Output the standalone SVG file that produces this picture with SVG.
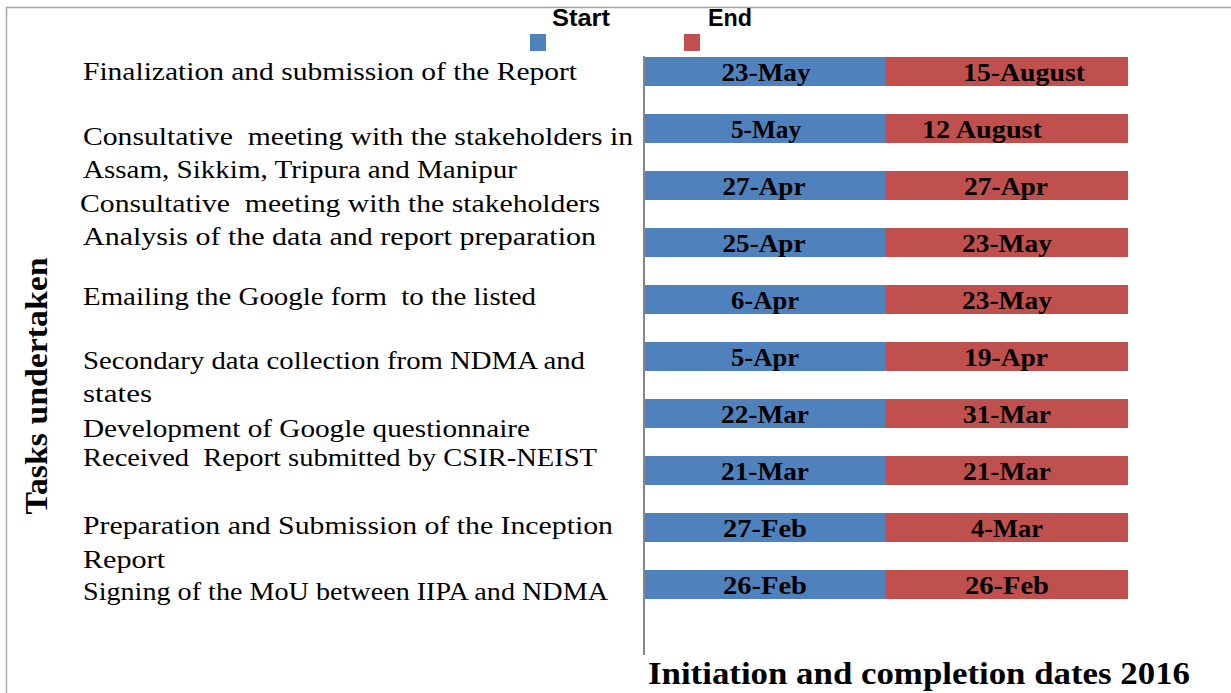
<svg xmlns="http://www.w3.org/2000/svg" width="1231" height="693" viewBox="0 0 1231 693">
<defs>
<style>
.frame{fill:none;stroke:#a6a6a6;stroke-width:1.5}
.axis{stroke:#868686;stroke-width:2}
.start{fill:#4F81BD}
.end{fill:#C0504D}
.lbl{font-family:"Liberation Serif",serif;font-size:26px;fill:#000;white-space:pre}
.val{font-family:"Liberation Serif",serif;font-size:26px;font-weight:bold;fill:#000;text-anchor:middle}
.leg{font-family:"Liberation Sans",sans-serif;font-size:24px;font-weight:bold;fill:#000}
.title{font-family:"Liberation Serif",serif;font-size:31px;font-weight:bold;fill:#000}
</style>
</defs>
<rect x="0" y="0" width="1231" height="693" fill="#fff"/>
<rect class="frame" x="6.5" y="7.5" width="1300" height="800"/>

<g id="legend">
<text class="leg" x="552" y="26" textLength="58" lengthAdjust="spacingAndGlyphs">Start</text>
<rect class="start" x="530" y="34" width="16" height="17"/>
<text class="leg" x="708" y="26" textLength="44" lengthAdjust="spacingAndGlyphs">End</text>
<rect class="end" x="684" y="34" width="16" height="17"/>
</g>

<g id="axis-title-y">
<text class="title" transform="translate(47,386) rotate(-90)" text-anchor="middle" font-size="27" textLength="257" lengthAdjust="spacingAndGlyphs">Tasks undertaken</text>
</g>
<g id="axis-title-x">
<text class="title" x="648" y="684" textLength="542" lengthAdjust="spacingAndGlyphs">Initiation and completion dates 2016</text>
</g>

<g id="connectors">
<line class="axis" x1="644" y1="56" x2="644" y2="655"/>
</g>

<g id="task-1">
<text class="lbl" x="83" y="80" textLength="494" lengthAdjust="spacingAndGlyphs">Finalization and submission of the Report</text>
<rect class="start" x="645" y="57" width="241" height="29"/>
<rect class="end" x="886" y="57" width="242" height="29"/>
<text class="val" x="766" y="81" textLength="89" lengthAdjust="spacingAndGlyphs">23-May</text>
<text class="val" x="1024" y="81" textLength="122" lengthAdjust="spacingAndGlyphs">15-August</text>
</g>

<g id="task-2">
<text class="lbl" x="83" y="145" textLength="550" lengthAdjust="spacingAndGlyphs">Consultative  meeting with the stakeholders in</text>
<text class="lbl" x="83" y="178" textLength="434" lengthAdjust="spacingAndGlyphs">Assam, Sikkim, Tripura and Manipur</text>
<rect class="start" x="645" y="114" width="241" height="29"/>
<rect class="end" x="886" y="114" width="242" height="29"/>
<text class="val" x="766" y="138" textLength="70" lengthAdjust="spacingAndGlyphs">5-May</text>
<text class="val" x="982" y="138" textLength="120" lengthAdjust="spacingAndGlyphs">12 August</text>
</g>

<g id="task-3">
<text class="lbl" x="80" y="212" textLength="520" lengthAdjust="spacingAndGlyphs">Consultative  meeting with the stakeholders</text>
<rect class="start" x="645" y="171" width="241" height="29"/>
<rect class="end" x="886" y="171" width="242" height="29"/>
<text class="val" x="764" y="195" textLength="83" lengthAdjust="spacingAndGlyphs">27-Apr</text>
<text class="val" x="1006" y="195" textLength="84" lengthAdjust="spacingAndGlyphs">27-Apr</text>
</g>

<g id="task-4">
<text class="lbl" x="83" y="245" textLength="513" lengthAdjust="spacingAndGlyphs">Analysis of the data and report preparation</text>
<rect class="start" x="645" y="228" width="241" height="29"/>
<rect class="end" x="886" y="228" width="242" height="29"/>
<text class="val" x="764" y="252" textLength="83" lengthAdjust="spacingAndGlyphs">25-Apr</text>
<text class="val" x="1007" y="252" textLength="90" lengthAdjust="spacingAndGlyphs">23-May</text>
</g>

<g id="task-5">
<text class="lbl" x="83" y="305" textLength="453" lengthAdjust="spacingAndGlyphs">Emailing the Google form  to the listed</text>
<rect class="start" x="645" y="285" width="241" height="29"/>
<rect class="end" x="886" y="285" width="242" height="29"/>
<text class="val" x="765" y="309" textLength="68" lengthAdjust="spacingAndGlyphs">6-Apr</text>
<text class="val" x="1007" y="309" textLength="90" lengthAdjust="spacingAndGlyphs">23-May</text>
</g>

<g id="task-6">
<text class="lbl" x="83" y="369" textLength="502" lengthAdjust="spacingAndGlyphs">Secondary data collection from NDMA and</text>
<text class="lbl" x="83" y="402" textLength="69" lengthAdjust="spacingAndGlyphs">states</text>
<rect class="start" x="645" y="342" width="241" height="29"/>
<rect class="end" x="886" y="342" width="242" height="29"/>
<text class="val" x="765" y="366" textLength="68" lengthAdjust="spacingAndGlyphs">5-Apr</text>
<text class="val" x="1006" y="366" textLength="84" lengthAdjust="spacingAndGlyphs">19-Apr</text>
</g>

<g id="task-7">
<text class="lbl" x="83" y="437" textLength="447" lengthAdjust="spacingAndGlyphs">Development of Google questionnaire</text>
<rect class="start" x="645" y="399" width="241" height="29"/>
<rect class="end" x="886" y="399" width="242" height="29"/>
<text class="val" x="765" y="423" textLength="88" lengthAdjust="spacingAndGlyphs">22-Mar</text>
<text class="val" x="1007" y="423" textLength="88" lengthAdjust="spacingAndGlyphs">31-Mar</text>
</g>

<g id="task-8">
<text class="lbl" x="83" y="466" textLength="514" lengthAdjust="spacingAndGlyphs">Received  Report submitted by CSIR-NEIST</text>
<rect class="start" x="645" y="456" width="241" height="29"/>
<rect class="end" x="886" y="456" width="242" height="29"/>
<text class="val" x="765" y="480" textLength="88" lengthAdjust="spacingAndGlyphs">21-Mar</text>
<text class="val" x="1007" y="480" textLength="88" lengthAdjust="spacingAndGlyphs">21-Mar</text>
</g>

<g id="task-9">
<text class="lbl" x="83" y="534" textLength="530" lengthAdjust="spacingAndGlyphs">Preparation and Submission of the Inception</text>
<text class="lbl" x="83" y="568" textLength="82" lengthAdjust="spacingAndGlyphs">Report</text>
<rect class="start" x="645" y="513" width="241" height="29"/>
<rect class="end" x="886" y="513" width="242" height="29"/>
<text class="val" x="765" y="537" textLength="84" lengthAdjust="spacingAndGlyphs">27-Feb</text>
<text class="val" x="1007" y="537" textLength="72" lengthAdjust="spacingAndGlyphs">4-Mar</text>
</g>

<g id="task-10">
<text class="lbl" x="83" y="600" textLength="525" lengthAdjust="spacingAndGlyphs">Signing of the MoU between IIPA and NDMA</text>
<rect class="start" x="645" y="570" width="241" height="29"/>
<rect class="end" x="886" y="570" width="242" height="29"/>
<text class="val" x="765" y="594" textLength="84" lengthAdjust="spacingAndGlyphs">26-Feb</text>
<text class="val" x="1007" y="594" textLength="84" lengthAdjust="spacingAndGlyphs">26-Feb</text>
</g>
</svg>
